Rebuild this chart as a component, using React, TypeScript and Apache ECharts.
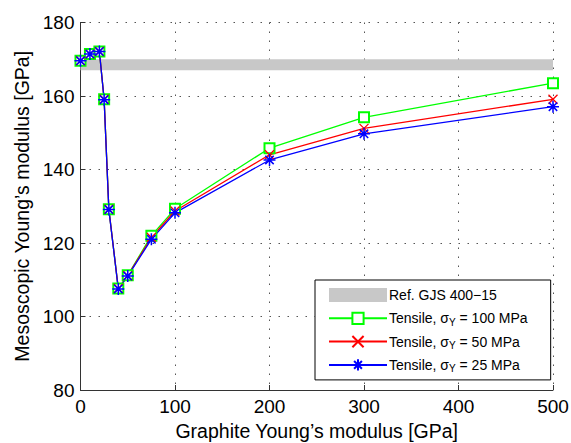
import React, { useEffect, useRef } from "react";
import * as echarts from "echarts";

const graphiteModulus = [0, 10, 20, 25, 30, 40, 50, 75, 100, 200, 300, 500];
const tensile100 = [169.6, 171.4, 172.1, 159.1, 129.2, 107.6, 111.2, 122.0, 129.3, 145.8, 154.2, 163.5];
const tensile50 = [169.6, 171.4, 172.1, 159.1, 129.2, 107.6, 111.1, 121.5, 128.7, 144.0, 151.2, 159.1];
const tensile25 = [169.6, 171.4, 172.1, 159.0, 129.1, 107.5, 111.0, 121.0, 128.2, 142.6, 149.7, 157.1];
const refBand = [167, 170];
const seriesNames = [
  "Ref. GJS 400\u221215",
  "Tensile, \u03c3Y = 100 MPa",
  "Tensile, \u03c3Y = 50 MPa",
  "Tensile, \u03c3Y = 25 MPa",
];

const FONT = "Liberation Sans, Arial, sans-serif";

export default function App() {
  const ref = useRef<HTMLDivElement>(null);
  useEffect(() => {
    document.body.style.margin = "0";
    const chart = echarts.init(ref.current!, null, { renderer: "svg" });
    const pts = (ys: number[]) => graphiteModulus.map((x, i) => [x, ys[i]]);
    const gridLine = { show: true, lineStyle: { color: "#555", width: 1, type: [1.5, 7.5] as any } };
    const axisLine = { show: true, onZero: false, lineStyle: { color: "#333", width: 1 } };
    chart.setOption({
      animation: false,
      textStyle: { fontFamily: FONT, color: "#000" },
      grid: { left: 80.5, right: 18, top: 22.5, bottom: 53, containLabel: false, outerBoundsMode: "none" },
      xAxis: {
        type: "value",
        min: 0,
        max: 500,
        interval: 100,
        name: "Graphite Young\u2019s modulus [GPa]",
        nameLocation: "middle",
        nameGap: 21,
        nameTextStyle: { fontSize: 19.5, color: "#000", fontFamily: FONT },
        axisLine,
        axisTick: { show: true, inside: true, length: 5, lineStyle: { color: "#333" } },
        axisLabel: { fontSize: 19, color: "#000", margin: 7, fontFamily: FONT },
        splitLine: gridLine,
      },
      yAxis: {
        type: "value",
        min: 80,
        max: 180,
        interval: 20,
        name: "Mesoscopic Young\u2019s modulus [GPa]",
        nameLocation: "middle",
        nameGap: 47,
        nameTextStyle: { fontSize: 19.5, color: "#000", fontFamily: FONT },
        axisLine,
        axisTick: { show: true, inside: true, length: 5, lineStyle: { color: "#333" } },
        axisLabel: { fontSize: 19, color: "#000", margin: 6, fontFamily: FONT },
        splitLine: gridLine,
      },
      legend: {
        orient: "vertical",
        left: 315,
        top: 280,
        padding: [6, 23, 6, 13],
        itemWidth: 58,
        itemHeight: 14,
        itemGap: 5.3,
        backgroundColor: "#fff",
        borderColor: "#000",
        borderWidth: 1,
        borderRadius: 0,
        selectedMode: false,
        data: [
          { name: seriesNames[0], icon: "rect" },
          { name: seriesNames[1] },
          { name: seriesNames[2] },
          { name: seriesNames[3] },
        ],
        formatter: (name: string) => name.replace("\u03c3Y", "\u03c3{sub|Y}"),
        textStyle: {
          fontSize: 14,
          lineHeight: 18,
          color: "#000",
          fontFamily: FONT,
          padding: [0, 0, 0, -3],
          rich: {
            sub: { fontSize: 10, lineHeight: 8, fontFamily: FONT, color: "#000", verticalAlign: "bottom" },
          },
        },
      },
      series: [
        {
          name: seriesNames[0],
          type: "line",
          data: [],
          color: "#c8c8c8",
          itemStyle: { color: "#c8c8c8" },
          markArea: {
            silent: true,
            itemStyle: { color: "#c8c8c8", opacity: 1 },
            data: [[{ xAxis: graphiteModulus[0], yAxis: refBand[0] }, { xAxis: graphiteModulus[graphiteModulus.length - 1], yAxis: refBand[1] }]],
          },
        },
        {
          name: seriesNames[1],
          type: "line",
          data: pts(tensile100),
          color: "#00ff00",
          lineStyle: { color: "#00ff00", width: 1.3 },
          symbol: "emptyRect",
          symbolSize: 10,
          showAllSymbol: true,
          itemStyle: { color: "#00ff00", borderColor: "#00ff00", borderWidth: 1.5 },
        },
        {
          name: seriesNames[2],
          type: "line",
          data: pts(tensile50),
          color: "#ff0000",
          lineStyle: { color: "#ff0000", width: 1.3 },
          symbol: "path://M0,0L10,10M10,0L0,10",
          symbolSize: 9,
          showAllSymbol: true,
          itemStyle: { color: "#ff0000", borderColor: "#ff0000", borderWidth: 1.3 },
        },
        {
          name: seriesNames[3],
          type: "line",
          data: pts(tensile25),
          color: "#0000ff",
          lineStyle: { color: "#0000ff", width: 1.3 },
          symbol: "path://M5,0L5,10M0,5L10,5M1.5,1.5L8.5,8.5M8.5,1.5L1.5,8.5",
          symbolSize: 12,
          showAllSymbol: true,
          itemStyle: { color: "#0000ff", borderColor: "#0000ff", borderWidth: 1.5 },
        },
      ],
    });
    return () => chart.dispose();
  }, []);
  return <div ref={ref} style={{ width: 571, height: 443 }} />;
}
